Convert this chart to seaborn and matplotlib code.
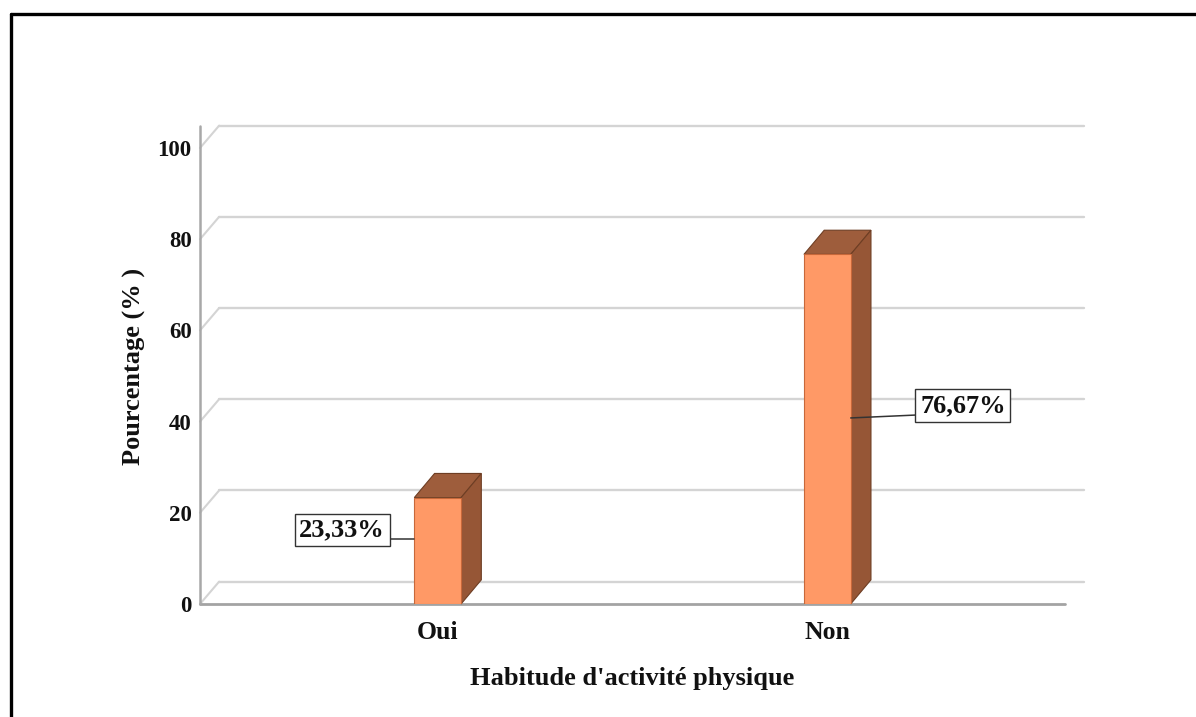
import numpy as np
import pandas as pd
import matplotlib
matplotlib.use("Agg")
import matplotlib.pyplot as plt
from matplotlib.patches import Polygon
from matplotlib.lines import Line2D
import seaborn as sns

# Survey results: physical activity habit
categories = ["Oui", "Non"]
percentages = [23.33, 76.67]
value_labels = ["23,33%", "76,67%"]
y_ticks = [0, 20, 40, 60, 80, 100]

# Pseudo-3D depth (data units) for bars and for the back wall
BAR_DX, BAR_DY = 0.052, 5.3
WALL_DX, WALL_DY = 0.049, 4.9
X_MIN, X_MAX = -0.61, 1.61
BAR_WIDTH = 0.12

FRONT = "#FF9966"
FRONT_EDGE = "#C8683A"
TOP = "#9E5D3C"
SIDE = "#965636"
DARK_EDGE = "#6E3E24"
TEXT = "#111111"

sns.set_theme(style="white")
plt.rcParams["font.family"] = ["Liberation Serif", "DejaVu Serif"]
plt.rcParams["font.weight"] = "bold"

fig = plt.figure(figsize=(11.96, 7.17), dpi=100)
ax = fig.add_axes([200 / 1196, (717 - 604) / 717, 865 / 1196, 456 / 717])

df = pd.DataFrame({"categorie": categories, "pourcentage": percentages})
sns.barplot(data=df, x="categorie", y="pourcentage", ax=ax, width=BAR_WIDTH,
            color=FRONT, saturation=1, edgecolor=FRONT_EDGE, linewidth=0.8,
            zorder=5)

ax.set_xlim(X_MIN, X_MAX)
ax.set_ylim(0, 100)
for s in ax.spines.values():
    s.set_visible(False)
ax.grid(False)

# Back wall gridlines with diagonal connectors to the front axis
for t in y_ticks:
    ax.add_line(Line2D([X_MIN + WALL_DX, X_MAX + WALL_DX], [t + WALL_DY, t + WALL_DY],
                       color="#D4D4D4", lw=1.7, clip_on=False, zorder=1))
    ax.add_line(Line2D([X_MIN, X_MIN + WALL_DX], [t, t + WALL_DY],
                       color="#D4D4D4", lw=1.5, clip_on=False, zorder=1))

# Front floor line and value axis line
ax.add_line(Line2D([X_MIN, X_MAX], [0, 0], color="#A3A3A3", lw=2.0,
                   clip_on=False, zorder=2))
ax.add_line(Line2D([X_MIN, X_MIN], [0, 100 + WALL_DY], color="#A8A8A8", lw=1.8,
                   clip_on=False, zorder=2))

# Top and side faces of each bar
bar_patches = ax.patches[:len(categories)]
for patch in bar_patches:
    x0 = patch.get_x()
    x1 = x0 + patch.get_width()
    h = patch.get_height()
    top = Polygon([[x0, h], [x1, h], [x1 + BAR_DX, h + BAR_DY], [x0 + BAR_DX, h + BAR_DY]],
                  closed=True, facecolor=TOP, edgecolor=DARK_EDGE, lw=0.8,
                  zorder=4, clip_on=False)
    side = Polygon([[x1, 0], [x1, h], [x1 + BAR_DX, h + BAR_DY], [x1 + BAR_DX, BAR_DY]],
                   closed=True, facecolor=SIDE, edgecolor=DARK_EDGE, lw=0.8,
                   zorder=4, clip_on=False)
    ax.add_patch(top)
    ax.add_patch(side)

# Value labels in boxes, with leader lines to the bars
# (box centre, leader start on the bar, leader end under the box)
label_specs = [
    ((-0.245, 16.2), (-BAR_WIDTH / 2, 14.25), (-0.245, 14.25)),
    ((1.348, 43.5), (1 + BAR_WIDTH / 2, 40.8), (1.348, 41.9)),
]
for (txy, start, end), lab in zip(label_specs, value_labels):
    ax.add_line(Line2D([start[0], end[0]], [start[1], end[1]], color="#333333",
                       lw=1.1, zorder=6, clip_on=False))
    ax.text(txy[0], txy[1], lab, ha="center", va="center", fontsize=19,
            fontweight="bold", color=TEXT, zorder=7,
            bbox=dict(boxstyle="square,pad=0.18", fc="white", ec="#333333", lw=1.0))

ax.set_yticks(y_ticks)
ax.set_yticklabels([str(t) for t in y_ticks])
ax.tick_params(axis="y", length=0, pad=6, labelsize=16.5, labelcolor=TEXT)
ax.tick_params(axis="x", length=0, pad=12, labelsize=18.5, labelcolor=TEXT)
for lbl in ax.get_xticklabels() + ax.get_yticklabels():
    lbl.set_fontweight("bold")

ax.set_xlabel("Habitude d'activité physique", fontsize=19, fontweight="bold",
              color=TEXT, labelpad=17)
ax.set_ylabel("Pourcentage (% )", fontsize=19, fontweight="bold", color=TEXT)
ax.yaxis.set_label_coords(-0.062, 0.522)

# Outer frame (top and left edges)
fig.add_artist(Line2D([11 / 1196, 1.0], [1 - 14 / 717, 1 - 14 / 717],
                      transform=fig.transFigure, color="black", lw=2.4))
fig.add_artist(Line2D([11 / 1196, 11 / 1196], [0.0, 1 - 14 / 717],
                      transform=fig.transFigure, color="black", lw=2.4))

fig.savefig("out.png", dpi=100, facecolor="white")
